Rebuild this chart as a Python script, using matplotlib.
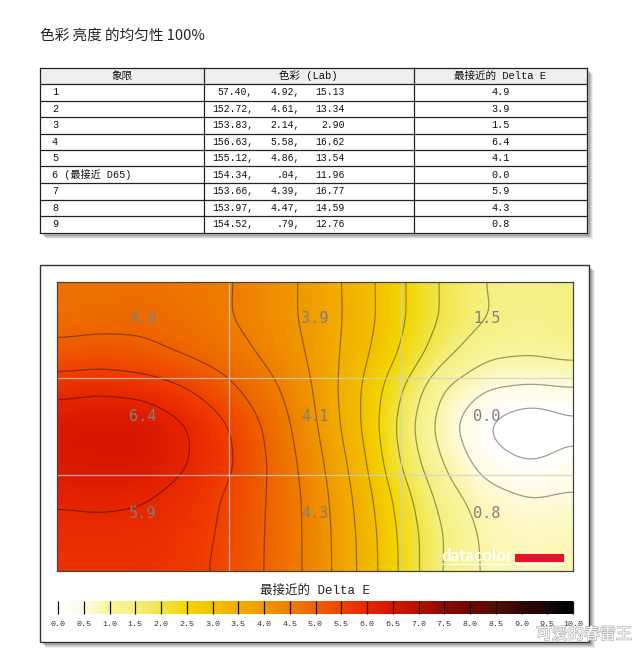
"""Delta E uniformity report page: table of nine quadrants plus the surface map."""
import numpy as np
import matplotlib
matplotlib.use("Agg")
import matplotlib.pyplot as plt
import matplotlib.patheffects as pe
from matplotlib.colors import LinearSegmentedColormap
from matplotlib.patches import Rectangle

W, H = 640, 653
CJK = "Noto Sans CJK SC"
MONO = ["Liberation Mono", CJK]
INK = "#111111"

TITLE = "色彩 亮度 的均匀性 100%"
HEADERS = ["象限", "色彩 (Lab)", "最接近的 Delta E"]
QUADRANTS = ["1", "2", "3", "4", "5", "6 (最接近 D65)", "7", "8", "9"]
LAB_L = ["57.40", "152.72", "153.83", "156.63", "155.12", "154.34", "153.66", "153.97", "154.52"]
LAB_A = ["4.92", "4.61", "2.14", "5.58", "4.86", ".04", "4.39", "4.47", ".79"]
LAB_B = ["15.13", "13.34", "2.90", "16.62", "13.54", "11.96", "16.77", "14.59", "12.76"]
DELTA_E = [4.9, 3.9, 1.5, 6.4, 4.1, 0.0, 5.9, 4.3, 0.8]

BAR_TITLE = "最接近的 Delta E"
BAR_TICKS = [i * 0.5 for i in range(21)]

# Surface, top row first, left to right
SURFACE = [
    [4.65, 4.70, 4.72, 4.60, 4.55, 4.23, 3.85, 3.28, 2.57, 1.91, 1.45, 1.35, 1.43],
    [4.80, 4.85, 4.88, 4.75, 4.52, 4.20, 3.86, 3.30, 2.58, 1.92, 1.52, 1.30, 1.60],
    [5.15, 5.20, 5.12, 4.95, 4.75, 4.35, 3.90, 3.20, 2.45, 1.64, 1.10, 1.05, 1.15],
    [5.85, 5.95, 5.85, 5.55, 5.13, 4.63, 3.98, 3.07, 2.03, 0.93, 0.47, 0.38, 0.45],
    [6.40, 6.45, 6.45, 6.05, 5.52, 4.85, 4.07, 3.10, 1.82, 0.70, -0.05, -0.50, -0.15],
    [6.35, 6.40, 6.40, 6.05, 5.60, 4.93, 4.20, 3.27, 1.95, 0.95, 0.22, 0.00, 0.22],
    [6.05, 6.10, 6.03, 5.80, 5.42, 4.94, 4.30, 3.40, 2.28, 1.27, 0.72, 0.52, 0.60],
    [5.85, 5.85, 5.85, 5.70, 5.40, 4.92, 4.32, 3.48, 2.40, 1.47, 0.87, 0.75, 0.80],
    [5.75, 5.75, 5.75, 5.65, 5.36, 4.92, 4.32, 3.50, 2.43, 1.43, 0.90, 0.85, 0.88],
]

BAR_COLORS = ["#ffffff", "#fffbe0", "#f8f5a0", "#f5f080", "#efe545", "#f3d500", "#f3bf00",
              "#f2ae00", "#f09800", "#ee7e00", "#ee6200", "#f04000", "#e62600", "#d41400",
              "#b81000", "#8a0a00", "#700400", "#501000", "#350505", "#1a0505", "#000000"]


def axes_px(fig, x0, y0, x1, y1):
    """Axes placed by pixel box, y measured from the top of the page."""
    return fig.add_axes([x0 / W, 1 - y1 / H, (x1 - x0) / W, (y1 - y0) / H])


def shadow(ax, x0, y0, x1, y1):
    for off, alpha in [(6, 0.10), (5, 0.15), (4, 0.20), (3, 0.25)]:
        ax.add_patch(Rectangle((x0 + off, y0 + off), x1 - x0, y1 - y0, color="#606060",
                               alpha=alpha, lw=0, zorder=1))


def smooth_surface(grid, nx, ny, sigma):
    """Resample the read-off grid for drawing and take the corners off it."""
    grid = np.asarray(grid, dtype=float)
    xs = np.linspace(0, grid.shape[1] - 1, nx)
    ys = np.linspace(0, grid.shape[0] - 1, ny)
    fine = np.array([np.interp(xs, np.arange(grid.shape[1]), row) for row in grid])
    fine = np.array([np.interp(ys, np.arange(grid.shape[0]), col) for col in fine.T]).T
    r = int(3 * sigma)
    kernel = np.exp(-0.5 * (np.arange(-r, r + 1) / sigma) ** 2)
    kernel /= kernel.sum()
    pad = np.pad(fine, r, mode="reflect")
    pad = np.apply_along_axis(lambda v: np.convolve(v, kernel, mode="same"), 0, pad)
    pad = np.apply_along_axis(lambda v: np.convolve(v, kernel, mode="same"), 1, pad)
    return pad[r:-r, r:-r]


fig = plt.figure(figsize=(W / 100, H / 100), dpi=100, facecolor="white")

page = fig.add_axes([0, 0, 1, 1])
page.set_xlim(0, W)
page.set_ylim(H, 0)
page.axis("off")

page.text(40, 35.5, TITLE, fontsize=10.5, family=CJK, color="#222222", va="center")

# ── Table ──
col_x = [40, 203.5, 413.5, 587]
row_y = [68, 84, 100.5, 117, 133.5, 150, 166, 183, 199.5, 216, 232.5]
shadow(page, col_x[0], row_y[0], col_x[-1], row_y[-1])
page.add_patch(Rectangle((col_x[0], row_y[0]), col_x[-1] - col_x[0], row_y[-1] - row_y[0],
                         color="white", zorder=2))
page.add_patch(Rectangle((col_x[0], row_y[0]), col_x[-1] - col_x[0], row_y[1] - row_y[0],
                         color="#eeeeee", lw=0, zorder=2))
for y in row_y:
    page.plot([col_x[0], col_x[-1]], [y, y], color="#222222", lw=0.9, zorder=3)
for x in col_x:
    page.plot([x, x], [row_y[0], row_y[-1]], color="#222222", lw=0.9, zorder=3)

for i, head in enumerate(HEADERS):
    page.text((col_x[i] + col_x[i + 1]) / 2, (row_y[0] + row_y[1]) / 2, head, family=MONO,
              fontsize=7.6, ha="center", va="center", color=INK, zorder=4)

for i, name in enumerate(QUADRANTS):
    y = (row_y[i + 1] + row_y[i + 2]) / 2
    page.text(52, y, name, family=MONO, fontsize=7.3, va="center", color=INK, zorder=4)
    page.text(253, y, LAB_L[i] + ",", family=MONO, fontsize=7, ha="right", va="center",
              color=INK, zorder=4)
    page.text(300, y, LAB_A[i] + ",", family=MONO, fontsize=7, ha="right", va="center",
              color=INK, zorder=4)
    page.text(345, y, LAB_B[i], family=MONO, fontsize=7, ha="right", va="center",
              color=INK, zorder=4)
    page.text((col_x[2] + col_x[3]) / 2, y, f"{DELTA_E[i]:.1f}", family=MONO, fontsize=7.3,
              ha="center", va="center", color=INK, zorder=4)

# ── Panel round the map ──
shadow(page, 40, 265, 589, 641.5)
page.add_patch(Rectangle((40, 265), 549, 376.5, facecolor="white", edgecolor="#333333",
                         lw=1.0, zorder=2))
page.text(315, 591, BAR_TITLE, family=MONO, fontsize=9, ha="center", va="center",
          color="#222222", zorder=4)

# ── Map ──
cmap = LinearSegmentedColormap.from_list("delta_e", BAR_COLORS, N=512)
fine = smooth_surface(SURFACE, 516, 289, 11)

ax = axes_px(fig, 57, 282, 573, 571)
ax.set_zorder(3)
im = ax.imshow(fine, cmap=cmap, vmin=0, vmax=10, extent=(0, 1, 1, 0), aspect="auto",
               interpolation="bilinear")
gx = np.linspace(0, 1, fine.shape[1])
gy = np.linspace(0, 1, fine.shape[0])
ax.contour(gx, gy, fine, levels=BAR_TICKS, colors="black", linewidths=0.9, alpha=0.38)
ax.set_xlim(0, 1)
ax.set_ylim(1, 0)
ax.set_xticks([])
ax.set_yticks([])
for spine in ax.spines.values():
    spine.set_color("#444444")
    spine.set_linewidth(0.9)

for v in (1 / 3, 2 / 3):
    ax.axvline(v, color="#d0d0d0", lw=0.9, alpha=0.8)
    ax.axhline(v, color="#d0d0d0", lw=0.9, alpha=0.8)

# labels sit a little above each cell centre
for i, val in enumerate(DELTA_E):
    ax.text((i % 3 + 0.5) / 3, 0.128 + (i // 3) * 0.336, f"{val:.1f}", family="DejaVu Sans Mono",
            fontsize=11, ha="center", va="center", color="#7f7f7f")

# datacolor mark
ax.text(0.744, 0.948, "datacolor", family="Lato", fontweight="bold",
        fontsize=12.2, color="white", ha="left", va="center")
ax.add_patch(Rectangle((0.887, 0.941), 0.095, 0.028, color="#e8112d", lw=0))
ax.plot([0.744, 0.982], [0.975, 0.975], color="white", lw=1.0)

# ── Colour bar ──
cax = axes_px(fig, 58, 601, 573, 614)
cax.set_zorder(3)
bar = fig.colorbar(im, cax=cax, orientation="horizontal", ticks=BAR_TICKS)
bar.outline.set_visible(False)
cax.tick_params(axis="x", direction="in", length=9.4, width=0.9, color="#111111", pad=5,
                labelsize=6, labelcolor="#333333")
cax.set_xticklabels([f"{t:.1f}" for t in BAR_TICKS], family="Liberation Mono")

# Watermark on top of everything
mark = fig.text(632 / W, 1 - 634.5 / H, "可爱的春雷王", family=CJK, fontsize=11.5, color="white",
                ha="right", va="center", zorder=10)
mark.set_path_effects([pe.withStroke(linewidth=1.0, foreground="#b0b0b0")])

fig.savefig("out.png", dpi=100, facecolor="white")
